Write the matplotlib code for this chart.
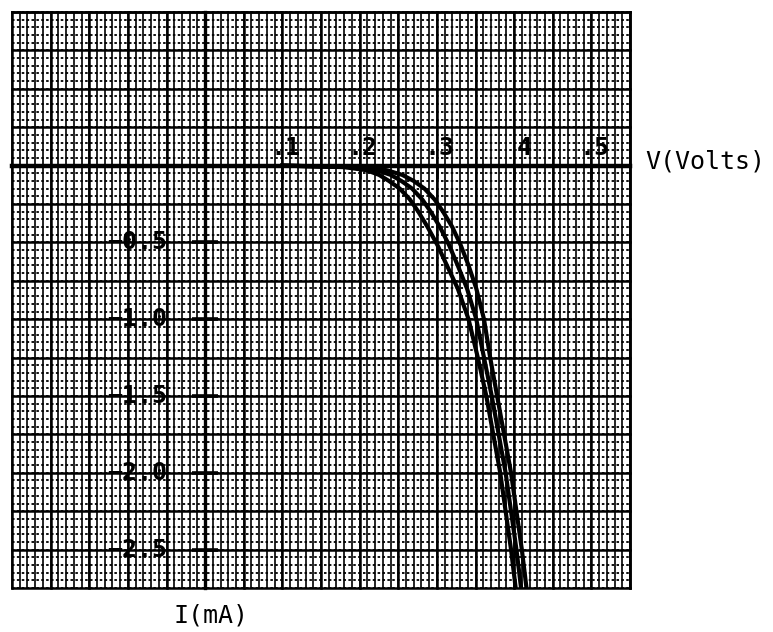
import numpy as np
import matplotlib
matplotlib.use("Agg")
import matplotlib.pyplot as plt

# ---------------- data ----------------
current_mA = [0.0, -0.01, -0.03, -0.06, -0.10, -0.15, -0.22, -0.30, -0.40,
              -0.52, -0.65, -0.80, -1.00, -1.25, -1.50, -1.75, -2.00, -2.25,
              -2.50, -2.75]
volts_inner = [0.100, 0.180, 0.209, 0.225, 0.238, 0.252, 0.265, 0.276, 0.288,
               0.301, 0.313, 0.327, 0.341, 0.353, 0.364, 0.373, 0.382, 0.389,
               0.396, 0.402]
volts_mid = [0.100, 0.190, 0.222, 0.240, 0.254, 0.268, 0.281, 0.292, 0.304,
             0.316, 0.327, 0.339, 0.351, 0.361, 0.371, 0.380, 0.389, 0.396,
             0.403, 0.409]
volts_outer = [0.100, 0.200, 0.235, 0.255, 0.270, 0.284, 0.297, 0.308, 0.320,
               0.331, 0.341, 0.351, 0.361, 0.369, 0.378, 0.387, 0.396, 0.403,
               0.410, 0.416]

x_tick_values = [0.1, 0.2, 0.3, 0.4, 0.5]
x_tick_labels = [".1", ".2", ".3", "4", ".5"]
y_tick_values = [-0.5, -1.0, -1.5, -2.0, -2.5]
y_tick_labels = ["\u22120.5", "\u22121.0", "\u22121.5", "\u22122.0", "\u22122.5"]

x_label = "V(Volts)"
y_label = "I(mA)"

# ---------------- figure ----------------
fig = plt.figure(figsize=(7.73, 6.32), dpi=100)
ax = fig.add_axes([12 / 773, 44 / 632, 618 / 773, 576 / 632])
ax.set_xlim(-0.25, 0.55)
ax.set_ylim(-2.75, 1.0)

mono = "DejaVu Sans Mono"

# graph-paper grid
for v in np.round(np.arange(-0.25, 0.5501, 0.01), 4):
    ax.axvline(v, color="black", lw=1.2, zorder=1, clip_on=False)
for i in np.round(np.arange(-2.75, 1.0001, 0.05), 4):
    ax.axhline(i, color="black", lw=1.3, ls=(0, (1.4, 1.3)), zorder=1, clip_on=False)
for v in np.round(np.arange(-0.25, 0.5501, 0.05), 4):
    ax.axvline(v, color="black", lw=1.8, zorder=2, clip_on=False)
for i in np.round(np.arange(-2.75, 1.0001, 0.25), 4):
    ax.axhline(i, color="black", lw=1.8, zorder=2, clip_on=False)

# axes through origin
for side in ["top", "right"]:
    ax.spines[side].set_linewidth(1.8)
ax.spines["left"].set_position(("data", 0))
ax.spines["bottom"].set_position(("data", 0))
ax.spines["left"].set_linewidth(2.4)
ax.spines["bottom"].set_linewidth(3.2)
ax.spines["left"].set_zorder(3)
ax.spines["bottom"].set_zorder(3)

ax.set_xticks(x_tick_values)
ax.set_yticks(y_tick_values)
ax.tick_params(axis="x", direction="out", length=9.5, width=1.8,
               labelbottom=False, top=False)
ax.tick_params(axis="y", direction="inout", length=19, width=2.6,
               labelleft=False, right=False)

# I-V traces (three sweeps that merge into one dark band at high current)
for vv in (volts_inner, volts_mid, volts_outer):
    ax.plot(vv, current_mA, color="black", lw=3.0, zorder=4,
            solid_joinstyle="round", clip_on=True)

# tick labels (typed on the paper)
for v, lab in zip(x_tick_values, x_tick_labels):
    ax.annotate(lab, xy=(v, 0), xytext=(13, 4), textcoords="offset points",
                ha="right", va="bottom", fontsize=18, fontweight="bold",
                family=mono, zorder=5)
for i, lab in zip(y_tick_values, y_tick_labels):
    ax.annotate(lab, xy=(0, i), xytext=(-27, 0), textcoords="offset points",
                ha="right", va="center", fontsize=18, fontweight="bold",
                family=mono, zorder=5)

# axis names
ax.annotate(x_label, xy=(1.0, 0), xycoords=("axes fraction", "data"),
            xytext=(11, -2), textcoords="offset points", ha="left",
            va="baseline", fontsize=18, family=mono, annotation_clip=False)
ax.annotate(y_label, xy=(0, 0), xycoords=("data", "axes fraction"),
            xytext=(4, -11), textcoords="offset points", ha="center",
            va="top", fontsize=18, family=mono, annotation_clip=False)

fig.savefig("out.png", dpi=100, facecolor="white")
